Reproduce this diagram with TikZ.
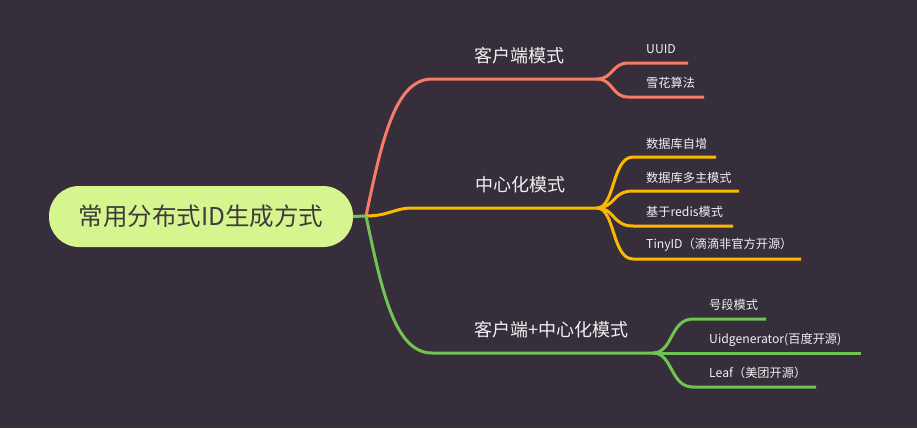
\documentclass[tikz,border=0pt]{standalone}
\usepackage{fontspec}
\setmainfont{Noto Sans CJK SC}
\definecolor{bg}{RGB}{54,47,59}
\definecolor{rootfill}{RGB}{215,245,143}
\definecolor{roottext}{RGB}{60,60,60}
\definecolor{salmon}{RGB}{247,123,102}
\definecolor{amber}{RGB}{252,184,0}
\definecolor{leafgreen}{RGB}{112,196,82}
\definecolor{txt}{RGB}{240,240,240}
\tikzset{
	rootbox/.style={fill=rootfill, rounded corners=30pt, minimum width=304pt, minimum height=61pt, text=roottext, font=\fontsize{24.5}{24.5}\selectfont},
	mainlabel/.style={anchor=west, inner sep=0pt, text=txt, font=\fontsize{18}{18}\selectfont},
	sublabel/.style={anchor=west, inner sep=0pt, text=txt, font=\fontsize{12.2}{12.2}\selectfont},
	link/.style={line width=3pt},
}

\begin{document}
\begin{tikzpicture}[x=1pt, y=-1pt]
		\fill[bg] (0,0) rectangle (917,428);
		\node[rootbox] (root) at (201,216.5) {常用分布式ID生成方式};
		\coordinate (hub) at (366,216);
		\draw[link, leafgreen] (root.east) -- (hub);
		% 客户端模式
		\coordinate (a) at (432,79);
		\coordinate (af) at (597,79);
		\draw[link, salmon] (hub) .. controls (382,140) and (395,79) .. (a) -- (af);
		\node[mainlabel] (amain) at (474,56) {客户端模式};
		\coordinate (a1) at (628,63);
		\coordinate (a1e) at (688,63);
		\coordinate (a2) at (628,97);
		\coordinate (a2e) at (704,97);
		\draw[link, salmon] (af) .. controls (613,79) and (612,63) .. (a1) -- (a1e);
		\draw[link, salmon] (af) .. controls (613,79) and (612,97) .. (a2) -- (a2e);
		\node[sublabel] (uuid) at (646,49) {UUID};
		\node[sublabel] (snow) at (646,83) {雪花算法};
		% 中心化模式
		\coordinate (b) at (412,208);
		\coordinate (bf) at (597,208);
		\draw[link, amber] (hub) .. controls (388,216) and (395,208) .. (b) -- (bf);
		\node[mainlabel] (bmain) at (475,185) {中心化模式};
		\coordinate (b1) at (633,157);
		\coordinate (b1e) at (716,157);
		\coordinate (b2) at (633,191);
		\coordinate (b2e) at (739,191);
		\coordinate (b3) at (633,226);
		\coordinate (b3e) at (733,226);
		\coordinate (b4) at (633,259);
		\coordinate (b4e) at (801,259);
		\draw[link, amber] (bf) .. controls (615,208) and (612,157) .. (b1) -- (b1e);
		\draw[link, amber] (bf) .. controls (615,208) and (612,191) .. (b2) -- (b2e);
		\draw[link, amber] (bf) .. controls (615,208) and (612,226) .. (b3) -- (b3e);
		\draw[link, amber] (bf) .. controls (615,208) and (612,259) .. (b4) -- (b4e);
		\node[sublabel] (dbinc) at (646,144) {数据库自增};
		\node[sublabel] (dbmulti) at (646,178) {数据库多主模式};
		\node[sublabel] (redis) at (646,212) {基于redis模式};
		\node[sublabel] (tinyid) at (646,245) {TinyID（滴滴非官方开源）};
		% 客户端+中心化模式
		\coordinate (c) at (432,353);
		\coordinate (cf) at (653,353);
		\draw[link, leafgreen] (hub) .. controls (382,292) and (395,353) .. (c) -- (cf);
		\node[mainlabel] (cmain) at (474,330) {客户端+中心化模式};
		\coordinate (c1) at (693,319);
		\coordinate (c1e) at (766,319);
		\coordinate (c2e) at (861,353);
		\coordinate (c3) at (693,387);
		\coordinate (c3e) at (816,387);
		\draw[link, leafgreen] (cf) .. controls (673,353) and (670,319) .. (c1) -- (c1e);
		\draw[link, leafgreen] (cf) -- (c2e);
		\draw[link, leafgreen] (cf) .. controls (673,353) and (670,387) .. (c3) -- (c3e);
		\node[sublabel] (segment) at (709,305) {号段模式};
		\node[sublabel] (uidgen) at (709,340) {Uidgenerator(百度开源)};
		\node[sublabel] (leaf) at (709,373) {Leaf（美团开源）};
	\end{tikzpicture}
\end{document}
